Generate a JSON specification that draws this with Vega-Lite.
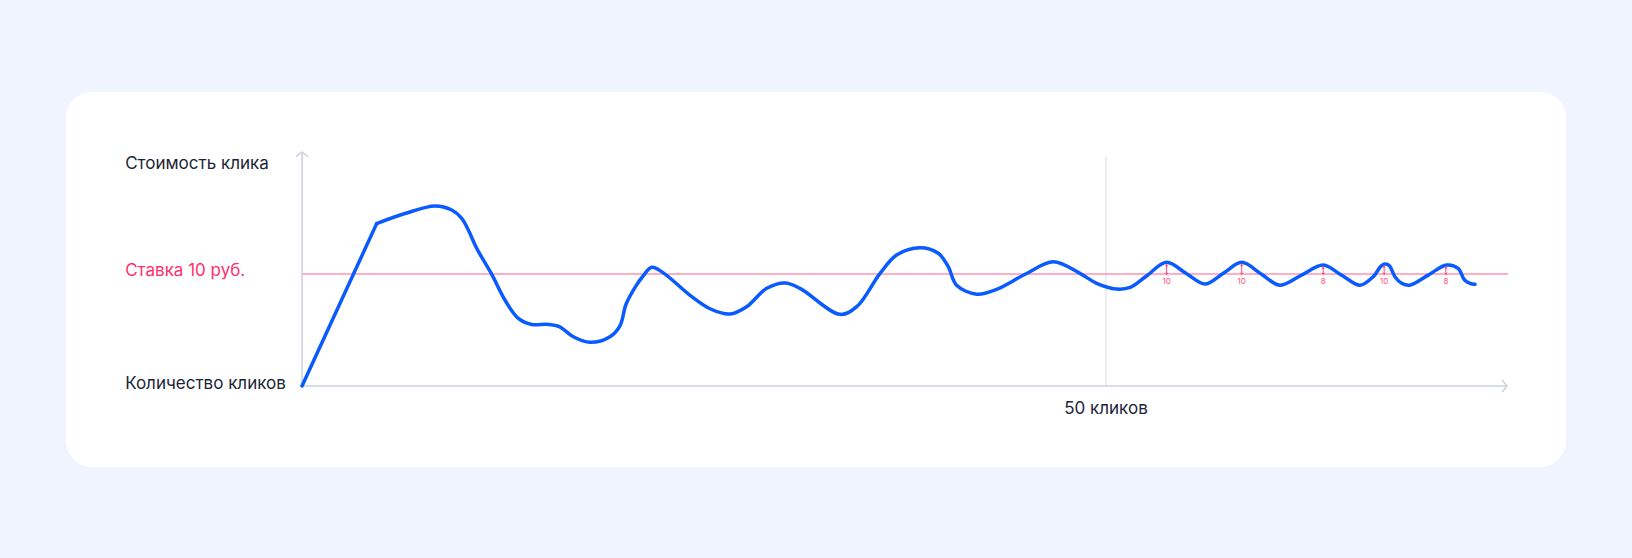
{
  "$schema": "https://vega.github.io/schema/vega-lite/v6.json",
  "width": 1500,
  "height": 375,
  "autosize": {"type": "none"},
  "padding": {"left": 66, "top": 92, "right": 66, "bottom": 91},
  "background": "#f0f4fe",
  "config": {"view": {"fill": "#ffffff", "stroke": null, "cornerRadius": 26}, "font": "Inter"},
  "datasets": {
    "rise": [
      {"x": 0, "y": 0}, {"x": 4.64, "y": 14.5}
    ],
    "curve": [
      {"x": 4.64, "y": 14.5}, {"x": 6.4, "y": 15.4},
      {"x": 8.27, "y": 16.07}, {"x": 9.31, "y": 15.71}, {"x": 9.93, "y": 14.97}, {"x": 10.35, "y": 13.9}, {"x": 10.86, "y": 12.3},
      {"x": 11.8, "y": 9.97}, {"x": 12.62, "y": 7.68}, {"x": 13.45, "y": 6.04}, {"x": 14.28, "y": 5.5},
      {"x": 15.3, "y": 5.5}, {"x": 16.0, "y": 5.3}, {"x": 16.87, "y": 4.4}, {"x": 17.91, "y": 3.9},
      {"x": 19.15, "y": 4.4}, {"x": 19.78, "y": 5.4}, {"x": 20.15, "y": 7.3},
      {"x": 20.75, "y": 8.9}, {"x": 21.2, "y": 9.8}, {"x": 21.75, "y": 10.6}, {"x": 22.47, "y": 10.1},
      {"x": 24.13, "y": 8.1}, {"x": 25.37, "y": 6.9}, {"x": 26.62, "y": 6.43}, {"x": 27.65, "y": 7.08},
      {"x": 28.9, "y": 8.72}, {"x": 30.04, "y": 9.2}, {"x": 30.97, "y": 8.72},
      {"x": 33.46, "y": 6.4}, {"x": 34.5, "y": 7.08}, {"x": 35.95, "y": 10.06}, {"x": 36.98, "y": 11.7},
      {"x": 38.43, "y": 12.35}, {"x": 39.57, "y": 11.85}, {"x": 40.19, "y": 10.65}, {"x": 40.71, "y": 9.0},
      {"x": 41.96, "y": 8.2}, {"x": 43.2, "y": 8.63}, {"x": 45.0, "y": 10.0},
      {"x": 46.72, "y": 11.1}, {"x": 48.38, "y": 10.06}, {"x": 49.42, "y": 9.17}, {"x": 50.66, "y": 8.66},
      {"x": 51.5, "y": 8.8}, {"x": 52.5, "y": 9.8}, {"x": 53.77, "y": 11.04},
      {"x": 54.97, "y": 10.07}, {"x": 56.16, "y": 9.1}, {"x": 57.3, "y": 10.07},
      {"x": 58.44, "y": 11.04}, {"x": 59.63, "y": 10.02}, {"x": 60.82, "y": 9.0}, {"x": 62.16, "y": 9.9},
      {"x": 63.51, "y": 10.8}, {"x": 64.65, "y": 9.9}, {"x": 65.8, "y": 9.0}, {"x": 66.62, "y": 9.76},
      {"x": 67.1, "y": 10.7}, {"x": 67.35, "y": 10.9}, {"x": 67.62, "y": 10.75}, {"x": 67.97, "y": 9.76}, {"x": 68.39, "y": 9.17},
      {"x": 68.9, "y": 9.0}, {"x": 70.04, "y": 9.9}, {"x": 71.18, "y": 10.8}, {"x": 71.9, "y": 10.5},
      {"x": 72.3, "y": 9.46}, {"x": 72.64, "y": 9.17}, {"x": 72.95, "y": 9.08}
    ],
    "notes": [
      {"x": 53.77, "y": 10.0, "y2": 10.82, "ly": 9.3, "label": "10"},
      {"x": 58.44, "y": 10.0, "y2": 10.82, "ly": 9.3, "label": "10"},
      {"x": 63.51, "y": 10.0, "y2": 10.6, "ly": 9.3, "label": "8"},
      {"x": 67.3, "y": 10.0, "y2": 10.7, "ly": 9.3, "label": "10"},
      {"x": 71.14, "y": 10.0, "y2": 10.6, "ly": 9.3, "label": "8"}
    ]
  },
  "encoding": {
    "x": {"field": "x", "type": "quantitative", "scale": {"domain": [-14.68, 78.61], "nice": false, "zero": false}, "axis": null},
    "y": {"field": "y", "type": "quantitative", "scale": {"domain": [-7.23, 26.25], "nice": false, "zero": false}, "axis": null}
  },
  "layer": [
    {
      "data": {"values": [{"x": 50, "y": 0, "y2": 20.45}]},
      "mark": {"type": "rule", "color": "#e2e5eb", "strokeWidth": 1.3},
      "encoding": {"y2": {"field": "y2"}}
    },
    {
      "data": {"values": [{"x": 0, "y": 10, "x2": 75}]},
      "mark": {"type": "rule", "color": "#ff5f8c", "strokeWidth": 1.2},
      "encoding": {"x2": {"field": "x2"}}
    },
    {
      "data": {"values": [{"x": 0, "y": 0, "x2": 0, "y2": 20.9}, {"x": 0, "y": 0, "x2": 74.94, "y2": 0}]},
      "mark": {"type": "rule", "color": "#cdd3dc", "strokeWidth": 1.6},
      "encoding": {"x2": {"field": "x2"}, "y2": {"field": "y2"}}
    },
    {
      "data": {"values": [{"x": 0, "y": 20.9}]},
      "mark": {"type": "point", "shape": "M-1,0.8L0,0L1,0.8", "size": 144, "filled": false, "stroke": "#cdd3dc", "strokeWidth": 1.6, "opacity": 1}
    },
    {
      "data": {"values": [{"x": 74.94, "y": 0}]},
      "mark": {"type": "point", "shape": "M-0.8,-1L0,0L-0.8,1", "size": 144, "filled": false, "stroke": "#cdd3dc", "strokeWidth": 1.6, "opacity": 1}
    },
    {
      "data": {"name": "rise"},
      "mark": {"type": "line", "interpolate": "linear", "color": "#0a5bff", "strokeWidth": 3.5, "strokeCap": "round", "strokeJoin": "round"}
    },
    {
      "data": {"name": "curve"},
      "mark": {"type": "line", "interpolate": "catmull-rom", "color": "#0a5bff", "strokeWidth": 3.5, "strokeCap": "round", "strokeJoin": "round"}
    },
    {
      "data": {"name": "notes"},
      "mark": {"type": "rule", "color": "#ff4d7d", "strokeWidth": 1},
      "encoding": {"y2": {"field": "y2"}}
    },
    {
      "data": {"name": "notes"},
      "mark": {"type": "point", "shape": "triangle-up", "size": 10, "filled": true, "color": "#ff4d7d", "opacity": 1},
      "encoding": {"y": {"field": "y2", "type": "quantitative"}}
    },
    {
      "data": {"name": "notes"},
      "mark": {"type": "point", "shape": "triangle-down", "size": 10, "filled": true, "color": "#ff4d7d", "opacity": 1}
    },
    {
      "data": {"name": "notes"},
      "mark": {"type": "text", "fontSize": 8, "color": "#ff4d7d", "align": "center", "baseline": "middle"},
      "encoding": {"y": {"field": "ly", "type": "quantitative"}, "text": {"field": "label"}}
    },
    {
      "data": {"values": [
        {"x": -11.0, "y": 19.8, "label": "Стоимость клика"},
        {"x": -11.0, "y": 0.2, "label": "Количество кликов"}
      ]},
      "mark": {"type": "text", "fontSize": 17, "color": "#1b2537", "align": "left", "baseline": "middle"},
      "encoding": {"text": {"field": "label"}}
    },
    {
      "data": {"values": [{"x": -11.0, "y": 10.3, "label": "Ставка 10 руб."}]},
      "mark": {"type": "text", "fontSize": 17, "color": "#ff2f6a", "align": "left", "baseline": "middle"},
      "encoding": {"text": {"field": "label"}}
    },
    {
      "data": {"values": [{"x": 50, "y": -2.05, "label": "50 кликов"}]},
      "mark": {"type": "text", "fontSize": 17, "color": "#1b2537", "align": "center", "baseline": "middle"},
      "encoding": {"text": {"field": "label"}}
    }
  ]
}
